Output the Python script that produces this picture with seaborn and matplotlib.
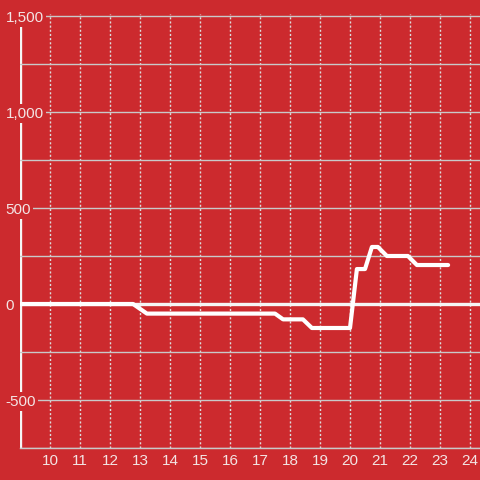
import pandas as pd
import seaborn as sns
import matplotlib.pyplot as plt

# Values
hours = [9.0, 12.77, 13.23, 17.5, 17.77, 18.43, 18.73, 20.0, 20.23, 20.5,
         20.73, 20.93, 21.23, 21.93, 22.23, 23.27]
values = [0, 0, -50, -50, -80, -80, -125, -125, 182, 182,
          297, 297, 250, 250, 203, 203]
x_ticks = list(range(10, 25))
y_ticks = [-500, 0, 500, 1000, 1500]
y_minor = [-750, -250, 250, 750, 1250]

bg = '#cc2a2e'
fg = '#f3e4e4'
grid_col = '#c9c9c9'

sns.set_style('white')
plt.rcParams['font.family'] = ['Liberation Sans', 'DejaVu Sans']

data = pd.DataFrame({'hour': hours, 'value': values})

fig = plt.figure(figsize=(4.8, 4.8), dpi=100, facecolor=bg)
# axes spans pixels x 20..480, y 14..448
ax = fig.add_axes([20 / 480, 32 / 480, 460 / 480, 434 / 480])
ax.set_facecolor(bg)

sns.lineplot(data=data, x='hour', y='value', color='white', linewidth=3,
             ax=ax, zorder=3)

ax.set_xlim(9, 9 + 460 / 30)
ax.set_ylim(-750, 1500 + 2 * 500 / 96)

ax.set_xticks(x_ticks)
ax.set_xticklabels([str(t) for t in x_ticks])
ax.set_yticks(y_ticks)
ax.set_yticklabels([f'{t:,}' for t in y_ticks])
ax.set_yticks(y_minor, minor=True)

ax.set_axisbelow(True)
ax.grid(axis='y', which='both', color=grid_col, linewidth=1, linestyle='-')
ax.grid(axis='x', which='major', color='#dcdcdc', linewidth=1,
        linestyle=(0, (1.5, 1.5)))

ax.tick_params(axis='y', which='both', length=0, pad=10.5, labelsize=11,
               labelcolor=fg)
ax.tick_params(axis='x', length=0, pad=4.5, labelsize=11, labelcolor=fg)
for lbl in ax.get_yticklabels():
    lbl.set_horizontalalignment('left')
    lbl.set_bbox(dict(facecolor=bg, edgecolor='none', pad=1.5))

for side in ['top', 'right', 'left']:
    ax.spines[side].set_visible(False)
ax.spines['bottom'].set_color(grid_col)
ax.spines['bottom'].set_linewidth(1)

# left axis line and zero line
ax.axvline(9, color='#f5f5f5', linewidth=2.4, zorder=0.4)
ax.axhline(0, color='#f5f5f5', linewidth=2.4, zorder=1.5)

ax.set_xlabel('')
ax.set_ylabel('')

fig.savefig('out.png', dpi=100, facecolor=bg)
